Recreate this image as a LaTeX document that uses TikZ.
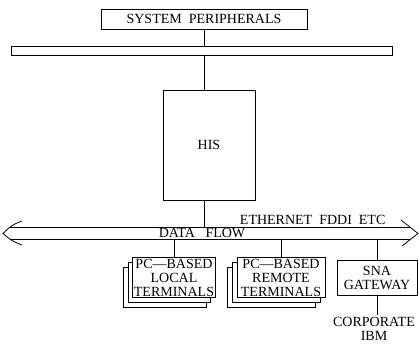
\documentclass[tikz,border=0pt]{standalone}
\usepackage{fontspec}
\setmainfont{Liberation Serif}
\usetikzlibrary{positioning,calc,shadows}
\tikzset{
  unit/.style={draw=black, fill=white, align=center, inner sep=1pt, line width=0.6pt, font=\fontsize{10.5}{10.5}\selectfont},
  stack/.style={unit, double copy shadow={shadow xshift=-3.5pt, shadow yshift=-3.8pt}},
  bus/.style={draw=black, inner sep=0pt, line width=0.6pt},
  lbl/.style={align=center, inner sep=1pt, font=\fontsize{10.5}{11}\selectfont},
  link/.style={line width=0.6pt},
}
\begin{document}
\begin{tikzpicture}[x=0.75pt,y=-0.75pt]
    \useasboundingbox (0,0) rectangle (419,347);
    % top of the system
    \node[unit, minimum width=154.5pt, minimum height=15pt] (periph) at (204,19) {SYSTEM\ \ PERIPHERALS};
    \node[bus, minimum width=285.75pt, minimum height=6.75pt] (sysbus) at (201.5,50.5) {};
    \node[unit, minimum width=69pt, minimum height=82.5pt] (his) at (209,145) {HIS};
    \draw[link] (periph.south) -- (periph.south |- sysbus.north);
    \draw[link] (periph.south |- sysbus.south) -- (periph.south |- his.north);
    % network
    \node[inner sep=0pt, minimum width=300pt, minimum height=8.25pt] (lan) at (210,233.5) {};
    \draw[link] (lan.north west) -- (lan.north east);
    \draw[link] (lan.south west) -- (lan.south east);
    \draw[link] (22,221) .. controls (12,225) .. (3,233.5) .. controls (12,241) .. (22,245);
    \draw[link] (401,220) .. controls (410,226) .. (418,233.5) .. controls (410,240) .. (402,246);
    \node[lbl, above=1pt of lan.north, xshift=77pt] (ether) {ETHERNET\ \ FDDI\ \ ETC};
    \node[lbl] (flow) at (202,233) {DATA\ \ \ FLOW};
    \draw[link] (periph.south |- his.south) -- (periph.south |- lan.north);
    % terminals and gateway
    \node[stack, minimum width=61.5pt, minimum height=29.25pt] (local) at (174,277.5) {PC---BASED\\LOCAL\\TERMINALS};
    \node[stack, minimum width=66pt, minimum height=29.25pt] (remote) at (281,277.5) {PC---BASED\\REMOTE\\TERMINALS};
    \node[unit, minimum width=60pt, minimum height=26pt] (sna) at (377,278) {SNA\\GATEWAY};
    \node[lbl] (ibm) at (374,329) {CORPORATE\\IBM};
    \draw[link] (lan.south -| local.north) -- (local.north);
    \draw[link] (lan.south -| remote.north) -- (remote.north);
    \draw[link] (lan.south -| sna.north) -- (sna.north);
    \draw[link] (sna.south) -- (sna.south |- ibm.north);
\end{tikzpicture}
\end{document}
